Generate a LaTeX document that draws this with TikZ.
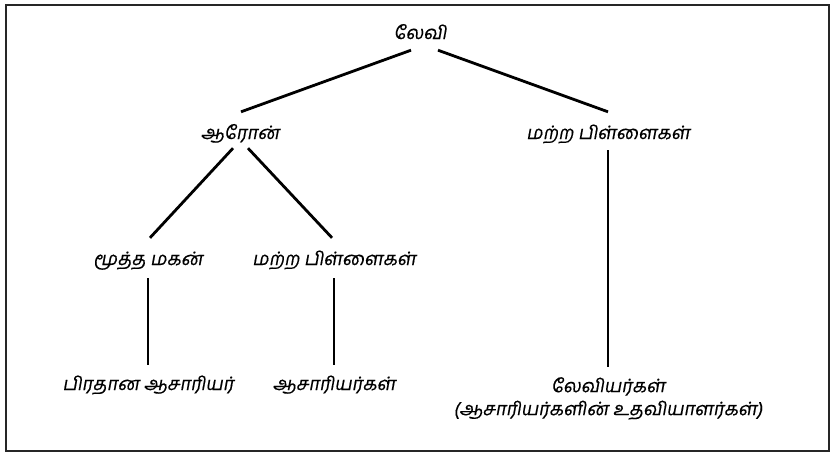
\documentclass[tikz,border=0pt]{standalone}
\usepackage{fontspec}
\newfontfamily\tamil[Script=Tamil,FakeSlant=0.18,FakeBold=0.4]{Hind Madurai}
\usetikzlibrary{calc}
\begin{document}
\begin{tikzpicture}[x=1pt,y=-1pt,
  lbl/.style={font=\tamil\fontsize{18.5}{23}\selectfont, inner sep=0pt, text height=13pt, text depth=5pt, align=center},
  edge/.style={line width=2.8pt, black}]
\useasboundingbox (0,0) rectangle (835,456);
\draw[line width=2.6pt, black!85] (6,5) rectangle (829,451);
\node[lbl] (levi)    at (420,35)  {லேவி};
\node[lbl] (aaron)   at (240,135) {ஆரோன்};
\node[lbl] (other1)  at (608,135) {மற்ற பிள்ளைகள்};
\node[lbl] (eldest)  at (148,261) {மூத்த மகன்};
\node[lbl] (other2)  at (334,261) {மற்ற பிள்ளைகள்};
\node[lbl] (high)    at (148,386) {பிரதான ஆசாரியர்};
\node[lbl] (priests) at (334,386) {ஆசாரியர்கள்};
\node[lbl, text height=, text depth=, anchor=north] (levites) at (608,377) {லேவியர்கள்\\(ஆசாரியர்களின் உதவியாளர்கள்)};
\draw[edge] ([xshift=-9pt,yshift=-6pt]levi.south) -- ([xshift=1pt,yshift=14pt]aaron.north);
\draw[edge] ([xshift=18pt,yshift=-6pt]levi.south) -- ([yshift=14pt]other1.north);
\draw[edge] ([xshift=-7pt,yshift=-4pt]aaron.south) -- ([xshift=2pt,yshift=14pt]eldest.north);
\draw[edge] ([xshift=8pt,yshift=-4pt]aaron.south) -- ([xshift=-2pt,yshift=14pt]other2.north);
\draw[edge] ([yshift=-8pt]eldest.south) -- ([yshift=12pt]high.north);
\draw[edge] ([yshift=-8pt]other2.south) -- ([yshift=12pt]priests.north);
\draw[edge] ([yshift=-6pt]other1.south) -- ([yshift=10pt]levites.north);
\end{tikzpicture}
\end{document}
